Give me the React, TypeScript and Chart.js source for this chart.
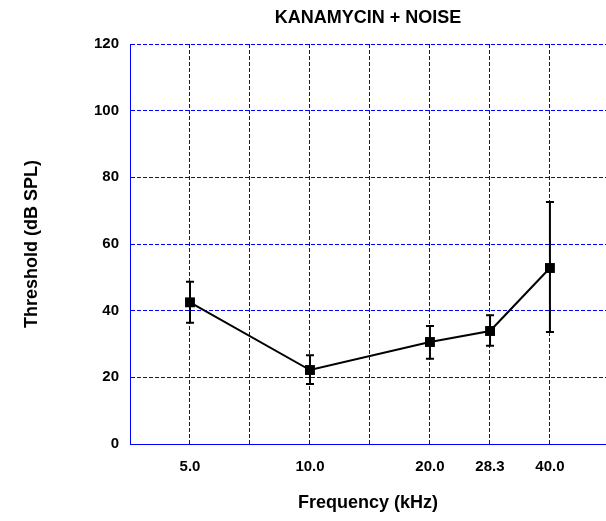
import React, { useEffect, useRef } from "react";
import { Chart, registerables } from "chart.js";

Chart.register(...registerables);

const frequencies = [5.0, 10.0, 20.0, 28.3, 40.0];
const thresholds = [42.5, 22.2, 30.6, 33.9, 52.8];
const errUpper = [48.7, 26.6, 35.4, 38.6, 72.6];
const errLower = [36.4, 18.0, 25.6, 29.5, 33.6];
const xTickValues = [5.0, 7.07, 10.0, 14.14, 20.0, 28.28, 40.0];
const xTickLabels = ["5.0", "", "10.0", "", "20.0", "28.3", "40.0"];
const yTickValues = [0, 20, 40, 60, 80, 100, 120];

const FONT = "'Liberation Sans', Arial, Helvetica, sans-serif";
const BLUE = "#0000ff";

const errorBarPlugin = {
  id: "errorBars",
  afterDatasetsDraw(chart: any) {
    const { ctx, scales } = chart;
    const xs = scales.x;
    const ys = scales.y;
    ctx.save();
    ctx.strokeStyle = "#000";
    ctx.lineWidth = 2;
    const cap = 4;
    for (let i = 0; i < frequencies.length; i++) {
      const x = xs.getPixelForValue(frequencies[i]);
      const yt = ys.getPixelForValue(errUpper[i]);
      const yb = ys.getPixelForValue(errLower[i]);
      ctx.beginPath();
      ctx.moveTo(x, yt);
      ctx.lineTo(x, yb);
      ctx.moveTo(x - cap, yt);
      ctx.lineTo(x + cap, yt);
      ctx.moveTo(x - cap, yb);
      ctx.lineTo(x + cap, yb);
      ctx.stroke();
    }
    ctx.restore();
  },
};

const titlePlugin = {
  id: "centeredTitle",
  afterDraw(chart: any) {
    const { ctx, chartArea } = chart;
    ctx.save();
    ctx.font = `bold 18px ${FONT}`;
    ctx.fillStyle = "#000";
    ctx.textAlign = "center";
    ctx.textBaseline = "middle";
    ctx.fillText("KANAMYCIN + NOISE", (chartArea.left + chartArea.right) / 2, 18);
    ctx.restore();
  },
};

export default function App() {
  const ref = useRef<HTMLCanvasElement>(null);

  useEffect(() => {
    if (!ref.current) return;
    const chart = new Chart(ref.current, {
      type: "line",
      data: {
        datasets: [
          {
            data: frequencies.map((f, i) => ({ x: f, y: thresholds[i] })),
            borderColor: "#000",
            backgroundColor: "#000",
            borderWidth: 2,
            pointStyle: "rect",
            pointRadius: 7,
            pointBorderWidth: 0,
            pointBackgroundColor: "#000",
            tension: 0,
          },
        ],
      },
      options: {
        animation: false,
        responsive: false,
        layout: { autoPadding: false, padding: { top: 44, left: 0, right: 0, bottom: 0 } },
        plugins: {
          legend: { display: false },
          tooltip: { enabled: false },
          title: { display: false },
        },
        scales: {
          x: {
            type: "logarithmic",
            min: 3.5355,
            max: 55.3,
            afterBuildTicks: (scale: any) => {
              scale.ticks = xTickValues.map((v) => ({ value: v }));
            },
            afterFit: (scale: any) => {
              scale.height = 77;
              scale.paddingLeft = 0;
              scale.paddingRight = 0;
            },
            ticks: {
              autoSkip: false,
              maxRotation: 0,
              padding: 14,
              color: "#000",
              font: { family: FONT, size: 15, weight: "bold" },
              callback: (_v: any, i: number) => xTickLabels[i],
            },
            grid: {
              color: BLUE,
              lineWidth: 1,
              drawTicks: false,
            },
            border: { display: true, color: BLUE, width: 1, dash: [4, 2] },
            title: {
              display: true,
              text: "Frequency (kHz)",
              color: "#000",
              font: { family: FONT, size: 18, weight: "bold" },
              padding: { top: 0, bottom: 7.2 },
            },
          },
          y: {
            type: "linear",
            min: 0,
            max: 120,
            afterBuildTicks: (scale: any) => {
              scale.ticks = yTickValues.map((v) => ({ value: v }));
            },
            afterFit: (scale: any) => {
              scale.width = 130;
            },
            ticks: {
              padding: 11,
              color: "#000",
              font: { family: FONT, size: 15, weight: "bold" },
            },
            grid: {
              color: BLUE,
              lineWidth: 1,
              drawTicks: false,
            },
            border: { display: true, color: BLUE, width: 1, dash: [4, 2] },
            title: {
              display: true,
              text: "Threshold (dB SPL)",
              color: "#000",
              font: { family: FONT, size: 18, weight: "bold" },
              padding: { top: 21.2, bottom: 0 },
            },
          },
        },
      },
      plugins: [errorBarPlugin, titlePlugin],
    } as any);

    return () => chart.destroy();
  }, []);

  return (
    <div style={{ position: "absolute", left: 0, top: 0, width: 606, height: 521 }}>
      <canvas ref={ref} width={606} height={521} style={{ width: 606, height: 521 }} />
    </div>
  );
}
